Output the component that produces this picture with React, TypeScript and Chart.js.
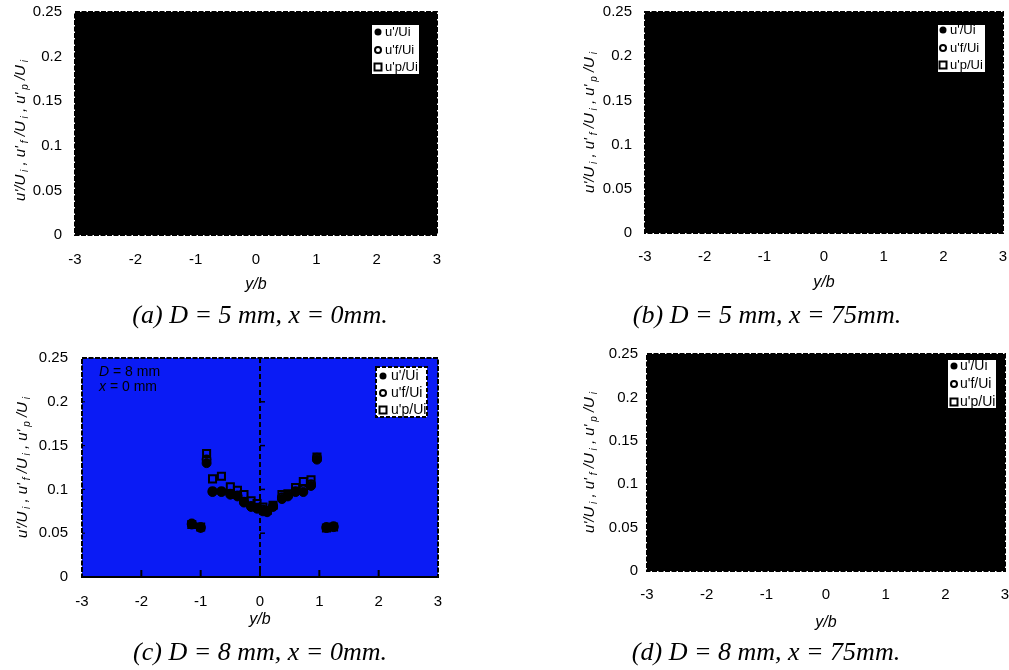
import React, { useEffect, useRef } from 'react';
import { Chart, registerables } from 'chart.js';

Chart.register(...registerables);

// ---------- data ----------
const xTickValues = [-3, -2, -1, 0, 1, 2, 3];
const yTickValues = [0, 0.05, 0.1, 0.15, 0.2, 0.25];
const seriesLabels = ["u'/Ui", "u'f/Ui", "u'p/Ui"];
const xAxisTitle = 'y/b';
const panelCaptions = [
  '(a) D = 5 mm, x = 0mm.',
  '(b) D = 5 mm, x = 75mm.',
  '(c) D = 8 mm, x = 0mm.',
  '(d) D = 8 mm, x = 75mm.',
];

// panel (c): D = 8 mm, x = 0 mm  (y/b positions and intensities)
const cPos = [-1.15, -1.0, -0.9, -0.8, -0.65, -0.5, -0.38, -0.27, -0.15, -0.05, 0.05, 0.12, 0.22, 0.37, 0.47, 0.6, 0.73, 0.86, 0.96, 1.12, 1.24];
const cU = [0.060, 0.057, 0.130, 0.097, 0.097, 0.094, 0.092, 0.085, 0.080, 0.078, 0.075, 0.074, 0.080, 0.089, 0.092, 0.097, 0.097, 0.104, 0.134, 0.056, 0.057];
const cUf = [0.061, 0.056, 0.134, 0.098, 0.098, 0.095, 0.093, 0.086, 0.081, 0.079, 0.077, 0.075, 0.081, 0.091, 0.093, 0.098, 0.100, 0.106, 0.136, 0.057, 0.058];
const cUp = [0.060, 0.057, 0.141, 0.112, 0.115, 0.103, 0.099, 0.094, 0.087, 0.084, 0.080, 0.076, 0.082, 0.094, 0.095, 0.102, 0.109, 0.111, 0.137, 0.056, 0.057];

// panels (a), (b), (d): plot area rendered fully black, no visible markers
const emptyPos: number[] = [];
const emptyVals: number[] = [];

// ---------- layout ----------
type Geo = {
  left: number; top: number; w: number; h: number;
  area: { l: number; t: number; r: number; b: number };
  xTickPad: number; xTitleH: number; yTickPad: number; yTitleX: number; yTitleShift: number;
  legend: { x1: number; y1: number; x2: number; y2: number; rows: number[]; mx: number; tx: number; font: number; dashed: boolean };
  bg: string; detailed: boolean;
  captionX: number; captionY: number;
};

const PANELS: Geo[] = [
  {
    left: 0, top: 0, w: 470, h: 310,
    area: { l: 75, t: 12, r: 437, b: 235 },
    xTickPad: 16, xTitleH: 59, yTickPad: 13, yTitleX: 21, yTitleShift: 7,
    legend: { x1: 372, y1: 25, x2: 419, y2: 74, rows: [32, 50, 67], mx: 378, tx: 385, font: 13, dashed: false },
    bg: '#000000', detailed: false, captionX: 260, captionY: 315,
  },
  {
    left: 560, top: 0, w: 449, h: 310,
    area: { l: 85, t: 12, r: 443, b: 233 },
    xTickPad: 15, xTitleH: 59, yTickPad: 13, yTitleX: 30, yTitleShift: 0,
    legend: { x1: 378, y1: 25, x2: 425, y2: 72, rows: [30, 48, 65], mx: 383, tx: 390, font: 13, dashed: false },
    bg: '#000000', detailed: false, captionX: 767, captionY: 315,
  },
  {
    left: 0, top: 330, w: 470, h: 310,
    area: { l: 82, t: 28, r: 438, b: 247 },
    xTickPad: 16, xTitleH: 52, yTickPad: 14, yTitleX: 23, yTitleShift: 0,
    legend: { x1: 376, y1: 37, x2: 427, y2: 87, rows: [46, 63, 80], mx: 383, tx: 391, font: 14, dashed: true },
    bg: '#0a1bf5', detailed: true, captionX: 260, captionY: 652,
  },
  {
    left: 560, top: 330, w: 449, h: 310,
    area: { l: 87, t: 24, r: 445, b: 241 },
    xTickPad: 15, xTitleH: 61, yTickPad: 9, yTitleX: 30, yTitleShift: 0,
    legend: { x1: 388, y1: 30, x2: 436, y2: 78, rows: [36, 54, 72], mx: 394, tx: 400, font: 14, dashed: false },
    bg: '#000000', detailed: false, captionX: 766, captionY: 652,
  },
];

const PANEL_DATA = [
  { pos: emptyPos, u: emptyVals, uf: emptyVals, up: emptyVals },
  { pos: emptyPos, u: emptyVals, uf: emptyVals, up: emptyVals },
  { pos: cPos, u: cU, uf: cUf, up: cUp },
  { pos: emptyPos, u: emptyVals, uf: emptyVals, up: emptyVals },
];

const SANS = '"Liberation Sans", Arial, sans-serif';
const SERIF = '"Liberation Serif", "Times New Roman", serif';

function drawMarker(ctx: CanvasRenderingContext2D, kind: number, x: number, y: number) {
  ctx.save();
  ctx.strokeStyle = '#000';
  ctx.fillStyle = '#000';
  ctx.lineWidth = 2;
  ctx.setLineDash([]);
  if (kind === 0) {
    ctx.beginPath();
    ctx.arc(x, y, 3.5, 0, Math.PI * 2);
    ctx.fill();
  } else if (kind === 1) {
    ctx.beginPath();
    ctx.arc(x, y, 3, 0, Math.PI * 2);
    ctx.stroke();
  } else {
    ctx.strokeRect(x - 3.5, y - 3.5, 7, 7);
  }
  ctx.restore();
}

const decoPlugin = {
  id: 'deco',
  beforeDraw(chart: any) {
    const g: Geo = chart.config.options.geo;
    const { ctx, chartArea: a } = chart;
    ctx.save();
    ctx.fillStyle = g.bg;
    ctx.fillRect(a.left, a.top, a.right - a.left, a.bottom - a.top);
    ctx.restore();
  },
  beforeDatasetsDraw(chart: any) {
    const g: Geo = chart.config.options.geo;
    if (!g.detailed) return;
    const { ctx, chartArea: a, scales } = chart;
    const x0 = scales.x.getPixelForValue(0);
    ctx.save();
    ctx.strokeStyle = '#000';
    ctx.lineWidth = 2;
    ctx.setLineDash([5, 3]);
    ctx.beginPath();
    ctx.moveTo(x0, a.top);
    ctx.lineTo(x0, a.bottom);
    ctx.stroke();
    ctx.setLineDash([]);
    ctx.lineWidth = 1.5;
    for (const v of yTickValues.slice(1, -1)) {
      const y = scales.y.getPixelForValue(v);
      ctx.beginPath();
      ctx.moveTo(x0, y);
      ctx.lineTo(x0 + 5, y);
      ctx.stroke();
    }
    ctx.lineWidth = 2;
    for (const v of xTickValues.slice(1, -1)) {
      const x = scales.x.getPixelForValue(v);
      ctx.beginPath();
      ctx.moveTo(x, a.bottom);
      ctx.lineTo(x, a.bottom - 7);
      ctx.stroke();
    }
    ctx.lineWidth = 1;
    for (const v of yTickValues.slice(1, -1)) {
      const y = scales.y.getPixelForValue(v);
      ctx.beginPath();
      ctx.moveTo(a.left, y);
      ctx.lineTo(a.left + 3, y);
      ctx.stroke();
    }
    ctx.restore();
  },
  afterDraw(chart: any) {
    const g: Geo = chart.config.options.geo;
    const { ctx, chartArea: a } = chart;
    ctx.save();
    // frame
    ctx.strokeStyle = '#000';
    ctx.lineWidth = 2;
    ctx.setLineDash([5, 1.5]);
    ctx.strokeRect(a.left, a.top, a.right - a.left, a.bottom - a.top);
    ctx.setLineDash([]);
    if (g.detailed) {
      ctx.beginPath();
      ctx.moveTo(a.left, a.bottom);
      ctx.lineTo(a.right, a.bottom);
      ctx.stroke();
      // annotation
      ctx.fillStyle = '#000';
      ctx.textBaseline = 'middle';
      ctx.font = `italic 14px ${SANS}`;
      ctx.fillText('D', 99, 42);
      const wD = ctx.measureText('D').width;
      ctx.font = `14px ${SANS}`;
      ctx.fillText(' = 8 mm', 99 + wD, 42);
      ctx.font = `italic 14px ${SANS}`;
      ctx.fillText('x', 99, 57);
      const wx = ctx.measureText('x').width;
      ctx.font = `14px ${SANS}`;
      ctx.fillText(' = 0 mm', 99 + wx, 57);
    }
    // legend
    const L = g.legend;
    ctx.fillStyle = '#fff';
    ctx.fillRect(L.x1, L.y1, L.x2 - L.x1, L.y2 - L.y1);
    if (L.dashed) {
      ctx.strokeStyle = '#000';
      ctx.lineWidth = 2;
      ctx.setLineDash([4, 2]);
      ctx.strokeRect(L.x1, L.y1, L.x2 - L.x1, L.y2 - L.y1);
      ctx.setLineDash([]);
    }
    ctx.save();
    ctx.beginPath();
    ctx.rect(L.x1, L.y1, L.x2 - L.x1 - 1, L.y2 - L.y1);
    ctx.clip();
    ctx.font = `${L.font}px ${SANS}`;
    ctx.textBaseline = 'middle';
    ctx.fillStyle = '#000';
    seriesLabels.forEach((lab, i) => {
      drawMarker(ctx, i, L.mx, L.rows[i]);
      ctx.fillText(lab, L.tx, L.rows[i]);
    });
    ctx.restore();
    // y axis title with subscripts
    const segs: [string, boolean][] = [
      ["u'/U", false], [' i', true], [" , u'", false], [' f', true], [' /U', false],
      [' i', true], [" , u'", false], [' p', true], [' /U', false], [' i', true],
    ];
    const mainF = `italic 15px ${SANS}`;
    const subF = `italic 10px ${SANS}`;
    let total = 0;
    const widths = segs.map(([t, s]) => {
      ctx.font = s ? subF : mainF;
      const w = ctx.measureText(t).width;
      total += w;
      return w;
    });
    ctx.translate(g.yTitleX, (a.top + a.bottom) / 2 + g.yTitleShift);
    ctx.rotate(-Math.PI / 2);
    ctx.fillStyle = '#000';
    ctx.textBaseline = 'middle';
    let px = -total / 2;
    segs.forEach(([t, s], i) => {
      ctx.font = s ? subF : mainF;
      ctx.fillText(t, px, s ? 4 : 0);
      px += widths[i];
    });
    ctx.restore();
  },
};

function Panel({ idx }: { idx: number }) {
  const ref = useRef<HTMLCanvasElement>(null);
  const g = PANELS[idx];
  useEffect(() => {
    const d = PANEL_DATA[idx];
    const pts = (vals: number[]) => d.pos.map((x, i) => ({ x, y: vals[i] }));
    const chart = new Chart(ref.current as HTMLCanvasElement, {
      type: 'scatter',
      data: {
        datasets: [
          {
            label: seriesLabels[0], data: pts(d.u),
            pointStyle: 'circle', pointRadius: 4.5, pointBackgroundColor: '#000', pointBorderColor: '#000', pointBorderWidth: 1,
          },
          {
            label: seriesLabels[1], data: pts(d.uf),
            pointStyle: 'circle', pointRadius: 4, pointBackgroundColor: 'rgba(0,0,0,0)', pointBorderColor: '#000', pointBorderWidth: 2,
          },
          {
            label: seriesLabels[2], data: pts(d.up),
            pointStyle: 'rect', pointRadius: 5, pointBackgroundColor: 'rgba(0,0,0,0)', pointBorderColor: '#000', pointBorderWidth: 2,
          },
        ],
      },
      options: {
        geo: g,
        animation: false,
        responsive: false,
        maintainAspectRatio: false,
        events: [],
        layout: {
          padding: { left: 0, top: g.area.t, right: g.w - g.area.r, bottom: g.h - g.area.b - g.xTitleH },
        },
        plugins: { legend: { display: false }, tooltip: { enabled: false }, title: { display: false } },
        scales: {
          x: {
            type: 'linear', min: -3, max: 3,
            grid: { display: false, drawTicks: false },
            border: { display: false },
            afterBuildTicks: (s: any) => { s.ticks = xTickValues.map((v) => ({ value: v })); },
            afterFit: (s: any) => { s.height = g.xTitleH; s.paddingLeft = 0; s.paddingRight = 0; },
            ticks: {
              padding: g.xTickPad, color: '#000', maxRotation: 0, autoSkip: false,
              font: { family: SANS, size: 15 },
              callback: (v: any) => String(v),
            },
            title: {
              display: true, text: xAxisTitle, color: '#000', padding: { top: 0, bottom: 0 },
              font: { family: SANS, size: 16, style: 'italic' },
            },
          },
          y: {
            type: 'linear', min: 0, max: 0.25,
            grid: { display: false, drawTicks: false },
            border: { display: false },
            afterBuildTicks: (s: any) => { s.ticks = yTickValues.map((v) => ({ value: v })); },
            afterFit: (s: any) => { s.width = g.area.l; s.paddingTop = 0; s.paddingBottom = 0; },
            ticks: {
              padding: g.yTickPad, color: '#000', autoSkip: false,
              font: { family: SANS, size: 15 },
              callback: (v: any) => String(v),
            },
            title: { display: false },
          },
        },
      } as any,
      plugins: [decoPlugin as any],
    });
    return () => chart.destroy();
  }, [idx]);
  return (
    <canvas
      ref={ref}
      width={g.w}
      height={g.h}
      style={{ position: 'absolute', left: g.left, top: g.top, width: g.w, height: g.h, display: 'block' }}
    />
  );
}

export default function App() {
  return (
    <div style={{ position: 'absolute', left: 0, top: 0, width: 1009, height: 670, background: '#fff', overflow: 'hidden' }}>
      {PANELS.map((_, i) => (
        <Panel key={i} idx={i} />
      ))}
      {PANELS.map((g, i) => (
        <div
          key={'cap' + i}
          style={{
            position: 'absolute', left: g.captionX - 200, top: g.captionY - 15, width: 400, height: 30,
            lineHeight: '30px', textAlign: 'center', fontFamily: SERIF, fontStyle: 'italic', fontSize: 26, color: '#000',
            whiteSpace: 'nowrap',
          }}
        >
          {panelCaptions[i]}
        </div>
      ))}
    </div>
  );
}
